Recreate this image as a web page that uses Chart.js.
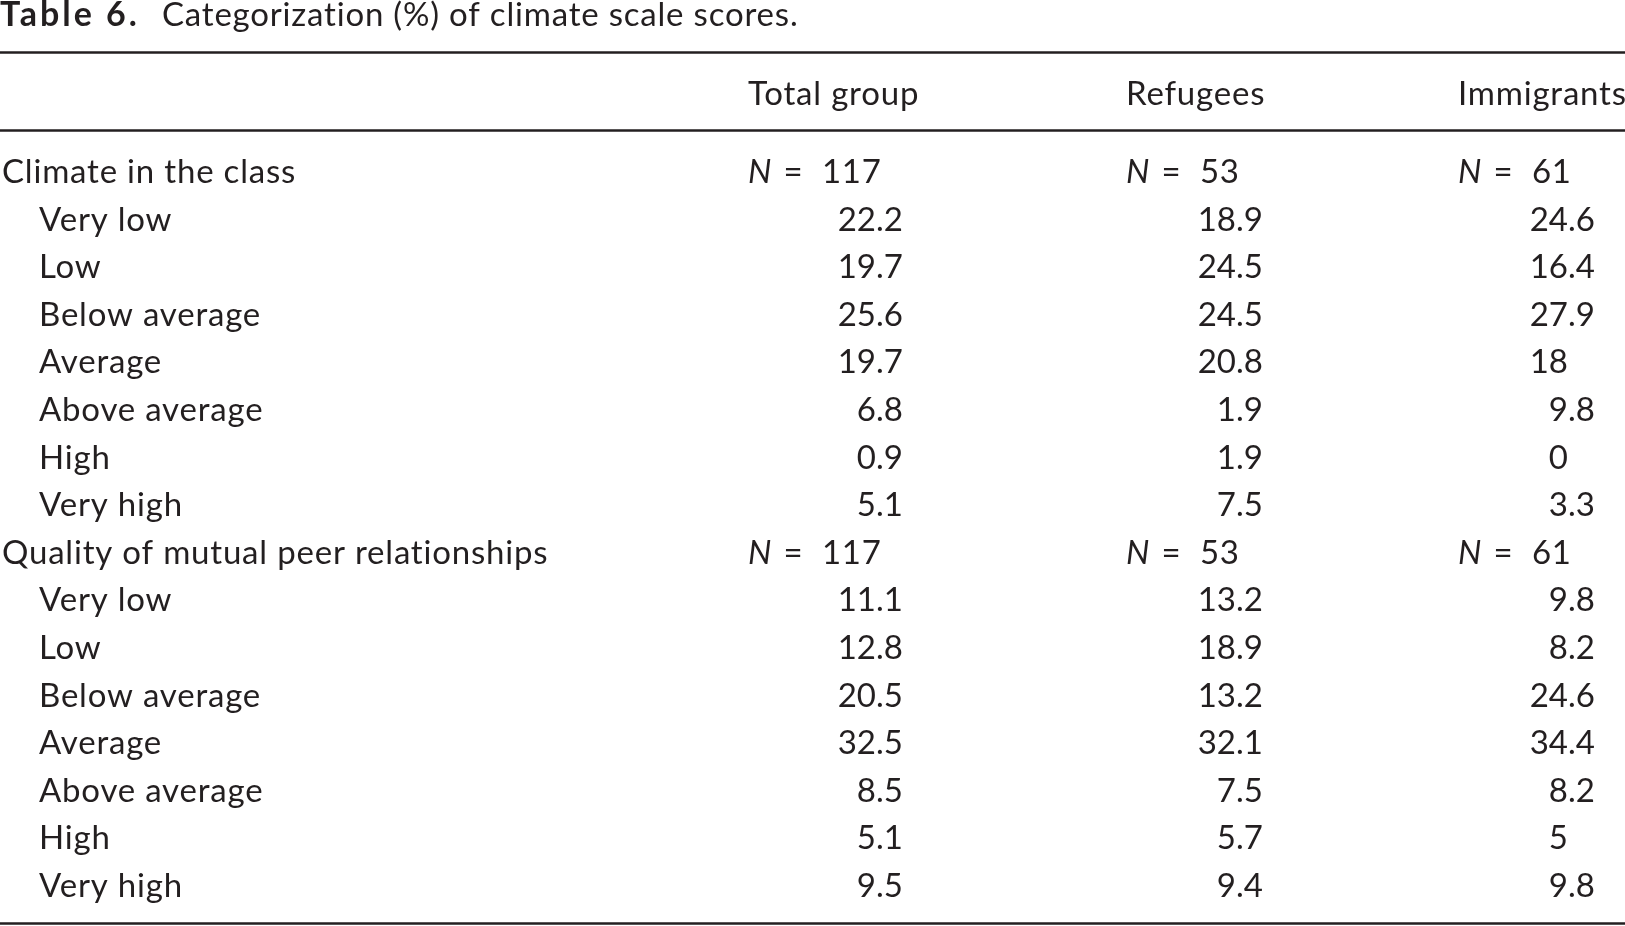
<!DOCTYPE html>
<html>
<head>
<meta charset="utf-8">
<script src="https://cdn.jsdelivr.net/npm/chart.js@4.4.1/dist/chart.umd.min.js"></script>
<style>
  html, body { margin: 0; padding: 0; background: #ffffff; }
  #wrap { width: 1625px; height: 926px; }
</style>
</head>
<body>
<div id="wrap"><canvas id="tableChart" width="1625" height="926"></canvas></div>
<script>
// Table content
const tableNumber = 'Table 6.';
const tableCaption = 'Categorization (%) of climate scale scores.';
const columns = ['Total group', 'Refugees', 'Immigrants'];
const sections = ['Climate in the class', 'Quality of mutual peer relationships'];
const levels = ['Very low', 'Low', 'Below average', 'Average', 'Above average', 'High', 'Very high'];
const sampleSizes = [117, 53, 61];

// Climate in the class (%)
const climateTotal = [22.2, 19.7, 25.6, 19.7, 6.8, 0.9, 5.1];
const climateRefugees = [18.9, 24.5, 24.5, 20.8, 1.9, 1.9, 7.5];
const climateImmigrants = [24.6, 16.4, 27.9, 18, 9.8, 0, 3.3];

// Quality of mutual peer relationships (%)
const peerTotal = [11.1, 12.8, 20.5, 32.5, 8.5, 5.1, 9.5];
const peerRefugees = [13.2, 18.9, 13.2, 32.1, 7.5, 5.7, 9.4];
const peerImmigrants = [9.8, 8.2, 24.6, 34.4, 8.2, 5, 9.8];

// Styles and layout
const INK = '#231f20';
const FONT = 'Lato, "Open Sans", sans-serif';
const FONT_SIZE = 33;
const TEXT_SPACING = '0.8px';
const colNudge = [0, 14, 0];          // decimal anchor tweak per column
const colLeft = [-128, -110, -110];   // header / N start, relative to decimal anchor
const indent = 39;
const sectionLeft = 2;
const captionLeft = 162;
const ruleRows = [-2.75, -1.11, 15.55]; // in row units on the y scale
const headerRow = -1.64;

// Build rows and one dataset per column
const rowLabels = [];
const rowKinds = [];
const columnValues = [
    [climateTotal, peerTotal],
    [climateRefugees, peerRefugees],
    [climateImmigrants, peerImmigrants]
];
sections.forEach(function(section) {
    rowLabels.push(section);
    rowKinds.push('section');
    levels.forEach(function(level) {
        rowLabels.push(level);
        rowKinds.push('level');
    });
});

const datasets = columns.map(function(col, c) {
    const data = [];
    let row = 0;
    sections.forEach(function(section, s) {
        data.push({ x: c, y: row, kind: 'n', value: sampleSizes[c] });
        row++;
        columnValues[c][s].forEach(function(v) {
            data.push({ x: c, y: row, kind: 'pct', value: v });
            row++;
        });
    });
    return { label: col, data: data, pointRadius: 0, pointHoverRadius: 0 };
});

function font(weight, style, size) {
    return (style || 'normal') + ' ' + (weight || 'normal') + ' ' + (size || FONT_SIZE) + 'px ' + FONT;
}

// Draws the table text and rules from the scales
const tablePlugin = {
    id: 'tableText',
    afterDatasetsDraw(chart) {
        const ctx = chart.ctx;
        const xs = chart.scales.x;
        const ys = chart.scales.y;
        ctx.save();
        ctx.fillStyle = INK;
        ctx.strokeStyle = INK;
        ctx.textBaseline = 'alphabetic';

        // Caption
        ctx.textAlign = 'left';
        ctx.letterSpacing = '3px';
        ctx.font = font('bold', 'normal', 34);
        ctx.fillText(tableNumber, 0, 26);
        ctx.letterSpacing = TEXT_SPACING;
        ctx.font = font();
        ctx.fillText(tableCaption, captionLeft, 26);

        // Rules
        ctx.lineWidth = 2.5;
        ruleRows.forEach(function(r) {
            const py = Math.round(ys.getPixelForValue(r)) + 0.5;
            ctx.beginPath();
            ctx.moveTo(0, py);
            ctx.lineTo(chart.width, py);
            ctx.stroke();
        });

        // Column headers
        ctx.font = font();
        columns.forEach(function(col, c) {
            const px = xs.getPixelForValue(c) + colNudge[c] + colLeft[c];
            ctx.fillText(col, px, ys.getPixelForValue(headerRow));
        });

        // Row labels
        rowLabels.forEach(function(label, i) {
            const px = rowKinds[i] === 'section' ? sectionLeft : indent;
            ctx.fillText(label, px, ys.getPixelForValue(i));
        });

        // Cells
        chart.data.datasets.forEach(function(ds, c) {
            const meta = chart.getDatasetMeta(c);
            meta.data.forEach(function(pt, i) {
                const d = ds.data[i];
                const ax = pt.x + colNudge[c];
                if (d.kind === 'n') {
                    const left = ax + colLeft[c];
                    ctx.letterSpacing = TEXT_SPACING;
                    ctx.textAlign = 'left';
                    ctx.font = font('normal', 'italic');
                    ctx.fillText('N', left, pt.y);
                    const w = ctx.measureText('N').width;
                    ctx.font = font();
                    ctx.fillText(' =  ' + d.value, left + w + 2, pt.y);
                } else {
                    const parts = String(d.value).split('.');
                    ctx.letterSpacing = '0px';
                    ctx.font = font();
                    ctx.textAlign = 'right';
                    ctx.fillText(parts[0], ax, pt.y);
                    if (parts.length > 1) {
                        ctx.textAlign = 'left';
                        ctx.fillText('.' + parts[1], ax, pt.y);
                    }
                }
            });
        });
        ctx.restore();
    }
};

// Initialize chart
const ctx = document.getElementById('tableChart').getContext('2d');
const tableChart = new Chart(ctx, {
    type: 'scatter',
    data: { datasets: datasets },
    options: {
        responsive: false,
        animation: false,
        devicePixelRatio: 1,
        layout: { padding: 0 },
        plugins: {
            legend: { display: false },
            tooltip: { enabled: false }
        },
        scales: {
            x: { type: 'linear', display: false, min: -876 / 346, max: 749 / 346 },
            y: { type: 'linear', display: false, reverse: true, min: -183 / 47.6, max: 743 / 47.6 }
        }
    },
    plugins: [tablePlugin]
});
</script>
</body>
</html>
